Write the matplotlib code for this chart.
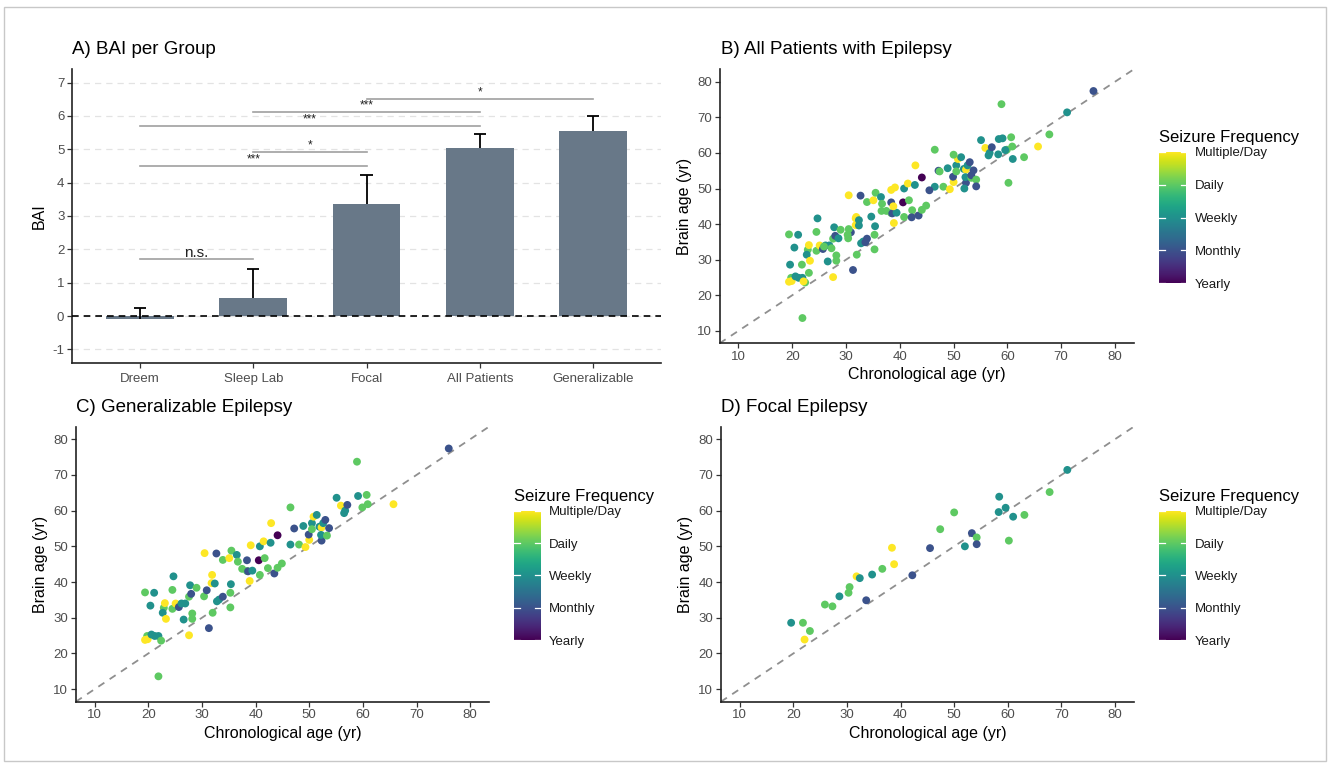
import matplotlib
matplotlib.use("Agg")
import matplotlib.pyplot as plt
import numpy as np
from matplotlib.patches import Rectangle

plt.rcParams['font.family'] = ['Liberation Sans', 'DejaVu Sans']
plt.rcParams['axes.unicode_minus'] = False

# ---------------- data ----------------
groups = ["Dreem", "Sleep Lab", "Focal", "All Patients", "Generalizable"]
bai_mean = [-0.08, 0.55, 3.36, 5.04, 5.55]
bai_err = [0.32, 0.87, 0.86, 0.41, 0.46]

# significance brackets: (group i, group j, height, label)
sig_i = [0, 0, 1, 0, 1, 2]
sig_j = [1, 2, 2, 3, 3, 4]
sig_y = [1.71, 4.51, 4.91, 5.71, 6.11, 6.51]
sig_label = ["n.s.", "***", "*", "***", "***", "*"]

freq_labels = ["Yearly", "Monthly", "Weekly", "Daily", "Multiple/Day"]
freq_codes = [1, 2, 3, 4, 5]

# Generalizable epilepsy: chronological age, brain age, seizure frequency code
gen_age = [19.4, 21.1, 20.4, 19.8, 19.4, 19.9, 20.6, 21.2, 21.9, 22.4, 21.9, 22.9, 22.7, 23.1, 23.3,
           24.5, 24.7, 24.5, 25.1, 25.7, 26.2, 26.9, 26.6, 27.6, 27.8, 28.0, 28.2, 28.2, 27.6, 29.0,
           30.4, 30.5, 30.9, 31.3, 31.9, 31.8, 32.0, 32.4, 32.7, 32.8, 33.2, 33.9, 33.9, 35.1, 35.4,
           35.3, 35.3, 35.5, 36.5, 36.7, 37.5, 38.4, 38.4, 38.6, 38.9, 39.1, 39.4, 40.6, 40.8, 40.8,
           41.5, 41.7, 42.3, 42.8, 42.9, 43.5, 44.1, 44.1, 44.9, 46.5, 46.5, 47.2, 48.1, 48.9, 49.3,
           50.0, 49.9, 50.5, 50.5, 50.8, 51.4, 51.9, 52.3, 52.3, 52.2, 52.6, 53.0, 53.3, 53.7, 55.1,
           55.9, 56.5, 56.7, 57.1, 58.9, 59.1, 59.9, 60.7, 60.9, 65.7, 76.0]
gen_brain = [37.1, 37.0, 33.4, 24.9, 23.8, 24.0, 25.3, 24.9, 24.9, 23.6, 13.6, 32.8, 31.4, 34.1, 29.7,
             37.8, 41.6, 32.5, 34.0, 33.0, 34.0, 34.0, 29.5, 35.9, 39.1, 36.7, 31.2, 29.7, 25.1, 38.4,
             36.0, 48.1, 37.7, 27.1, 42.0, 39.7, 31.4, 39.6, 48.0, 34.6, 35.1, 35.9, 46.2, 46.7, 39.4,
             37.0, 32.9, 48.8, 47.6, 45.7, 43.7, 43.1, 46.1, 43.0, 40.3, 50.3, 43.2, 46.1, 50.0, 42.0,
             51.4, 46.7, 43.9, 51.0, 56.5, 42.4, 53.1, 44.0, 45.2, 50.5, 60.9, 55.0, 50.5, 55.7, 49.8,
             51.8, 53.3, 56.5, 54.8, 58.3, 58.8, 55.5, 55.3, 51.6, 53.2, 56.5, 57.4, 53.0, 55.1, 63.6,
             61.4, 59.3, 60.0, 61.6, 73.7, 64.1, 60.9, 64.4, 61.8, 61.8, 77.4]
gen_freq = [4, 3, 3, 4, 5, 5, 3, 3, 3, 4, 4, 4, 3, 5, 5,
            4, 3, 4, 5, 2, 3, 3, 3, 4, 3, 2, 4, 4, 5, 4,
            4, 5, 2, 2, 5, 5, 4, 3, 2, 3, 3, 2, 4, 5, 3,
            4, 4, 4, 3, 4, 4, 4, 2, 2, 5, 5, 3, 1, 3, 4,
            5, 4, 4, 3, 5, 2, 1, 4, 4, 3, 4, 2, 4, 3, 5,
            5, 2, 3, 4, 5, 3, 3, 5, 2, 3, 3, 2, 4, 2, 3,
            5, 3, 3, 2, 4, 3, 4, 4, 4, 5, 2]

# Focal epilepsy
foc_age = [19.6, 21.8, 23.1, 22.1, 25.9, 27.3, 28.6, 30.3, 30.5, 31.8, 32.4, 33.6, 34.7, 36.6, 38.4,
           38.8, 42.2, 45.5, 47.4, 50.0, 52.0, 53.3, 54.2, 54.2, 58.4, 58.3, 59.6, 61.0, 60.2, 63.1,
           67.8, 71.1]
foc_brain = [28.6, 28.6, 26.3, 23.9, 33.7, 33.2, 36.0, 37.0, 38.6, 41.6, 41.1, 34.9, 42.1, 43.7, 49.6,
             45.0, 41.9, 49.5, 54.8, 59.5, 50.0, 53.7, 52.5, 50.6, 63.9, 59.6, 60.8, 58.3, 51.6, 58.8,
             65.2, 71.4]
foc_freq = [3, 4, 4, 5, 4, 4, 3, 4, 4, 5, 3, 2, 3, 4, 5,
            5, 2, 2, 4, 4, 3, 2, 4, 2, 3, 3, 3, 3, 4, 4,
            4, 3]

age_ticks = [10, 20, 30, 40, 50, 60, 70, 80]
bai_ticks = [-1, 0, 1, 2, 3, 4, 5, 6, 7]

# ---------------- layout ----------------
W, H = 1328, 767
fig = plt.figure(figsize=(W / 100, H / 100), dpi=100)


def rect(l, r, t, b):
    return [l / W, 1 - b / H, (r - l) / W, (b - t) / H]


TICK_COL = '#4d4d4d'


def style_axes(ax):
    for s in ['top', 'right']:
        ax.spines[s].set_visible(False)
    for s in ['left', 'bottom']:
        ax.spines[s].set_linewidth(1.2)
        ax.spines[s].set_color('#222222')
    ax.tick_params(axis='both', length=3.5, width=0.9, color='#333333',
                   labelcolor=TICK_COL, labelsize=9.5, pad=2)


fig.patches.append(Rectangle((4 / W, 1 - 761 / H), 1322 / W, 754 / H,
                             transform=fig.transFigure, fill=False,
                             edgecolor='#c8c8c8', linewidth=1.0))

# ---------------- Panel A ----------------
axA = fig.add_axes(rect(72, 661, 69.3, 362.7))
style_axes(axA)
xpos = np.arange(len(groups))
for yv in bai_ticks:
    axA.axhline(yv, color='#e3e3e3', lw=0.9, ls=(0, (5, 4)), zorder=0)
axA.bar(xpos, bai_mean, width=0.6, color='#687888', zorder=2)
cap_half = 0.055
for xp, m, e in zip(xpos, bai_mean, bai_err):
    top = m + e
    axA.plot([xp, xp], [m, top], color='black', lw=1.3, zorder=3, solid_capstyle='butt')
    axA.plot([xp - cap_half, xp + cap_half], [top, top], color='black', lw=1.3, zorder=3,
             solid_capstyle='butt')
axA.axhline(0, color='black', lw=1.2, ls=(0, (4, 3)), zorder=4)
for i, j, yv, lab in zip(sig_i, sig_j, sig_y, sig_label):
    axA.plot([xpos[i], xpos[j]], [yv, yv], color='#a0a0a0', lw=1.2, zorder=3)
    if lab == 'n.s.':
        axA.text((xpos[i] + xpos[j]) / 2, yv - 0.02, lab, ha='center', va='bottom',
                 fontsize=11, color='#222222')
    else:
        axA.text((xpos[i] + xpos[j]) / 2, yv + 0.02, lab, ha='center', va='bottom',
                 fontsize=8.5, color='#222222')
axA.set_xlim(-0.6, 4.6)
axA.set_ylim(-1.4, 7.4)
axA.set_yticks(bai_ticks)
axA.set_xticks(xpos)
axA.set_xticklabels(groups)
axA.tick_params(axis='x', pad=4)
axA.set_ylabel('BAI', fontsize=11.5, labelpad=4)
fig.text(72 / W, 1 - 50 / H, 'A) BAI per Group', fontsize=13.5, ha='left', va='center')

# ---------------- scatter panels ----------------
cmap = plt.get_cmap('viridis')


def scatter_panel(ax_rect, cb_rect, xs, ys, cs, title, title_xy):
    ax = fig.add_axes(rect(*ax_rect))
    style_axes(ax)
    ax.plot([6.5, 83.5], [6.5, 83.5], color='#8f8f8f', lw=1.3, ls=(0, (4, 3.5)), zorder=1)
    sc = ax.scatter(xs, ys, c=cs, cmap=cmap, vmin=1, vmax=5, s=32, linewidths=0, zorder=2)
    ax.set_xlim(6.5, 83.5)
    ax.set_ylim(6.5, 83.5)
    ax.set_xticks(age_ticks)
    ax.set_yticks(age_ticks)
    ax.set_xlabel('Chronological age (yr)', fontsize=11.5, labelpad=3)
    ax.set_ylabel('Brain age (yr)', fontsize=11.5, labelpad=4)
    fig.text(title_xy[0] / W, 1 - title_xy[1] / H, title, fontsize=13.5, ha='left', va='center')
    cax = fig.add_axes(rect(*cb_rect))
    cb = fig.colorbar(sc, cax=cax, ticks=freq_codes)
    cb.outline.set_visible(False)
    cb.set_ticklabels(freq_labels)
    cax.tick_params(length=0, labelsize=9.5, labelcolor='#1a1a1a', pad=6)
    for v in freq_codes:
        cax.plot([0, 0.2], [v, v], color='white', lw=0.9, transform=cax.get_yaxis_transform())
        cax.plot([0.8, 1.0], [v, v], color='white', lw=0.9, transform=cax.get_yaxis_transform())
    l, r, t, b = cb_rect
    fig.text(l / W, 1 - (t - 14) / H, 'Seizure Frequency', fontsize=12, ha='left', va='center')
    return ax


all_age = gen_age + foc_age
all_brain = gen_brain + foc_brain
all_freq = gen_freq + foc_freq

scatter_panel((719.6, 1133.8, 69.3, 343.3), (1159.4, 1186.2, 151.7, 283.3),
              all_age, all_brain, all_freq, 'B) All Patients with Epilepsy', (721, 50))
scatter_panel((75.8, 489, 426.7, 701.7), (514.3, 540.8, 510.7, 640),
              gen_age, gen_brain, gen_freq, 'C) Generalizable Epilepsy', (75.8, 408))
scatter_panel((720.9, 1133.8, 426.7, 701.7), (1159.4, 1186.2, 510.7, 640),
              foc_age, foc_brain, foc_freq, 'D) Focal Epilepsy', (721, 408))

fig.savefig('out.png', dpi=100)
